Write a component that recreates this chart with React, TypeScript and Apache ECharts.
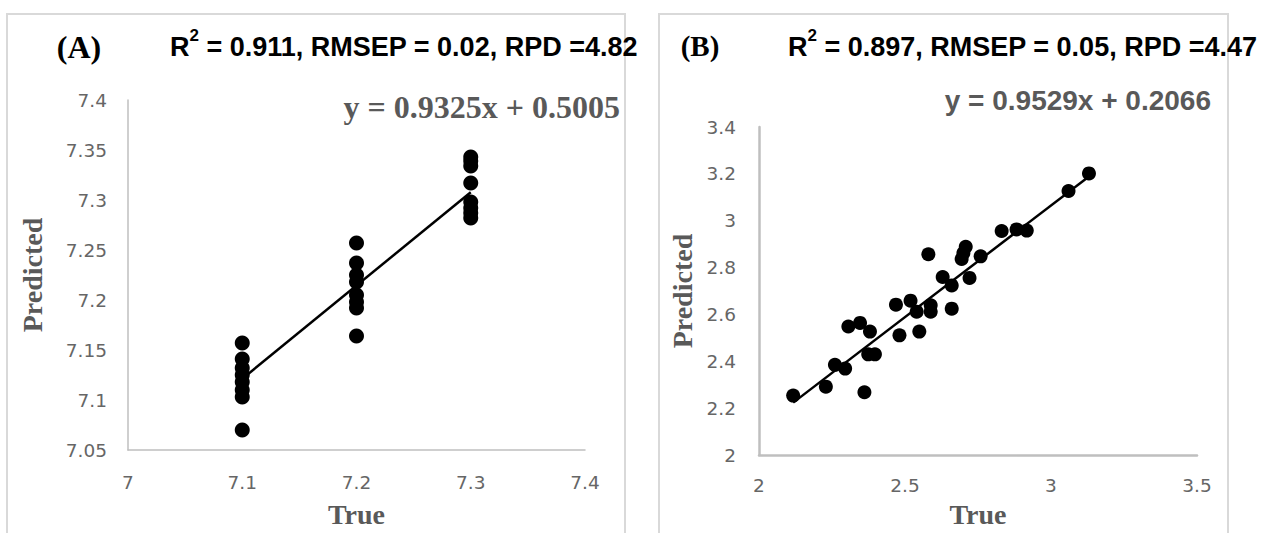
import React, { useEffect, useRef } from "react";
import * as echarts from "echarts";

// Panel A: true vs predicted
const aTrue = [
  7.1, 7.1, 7.1, 7.1, 7.1, 7.1, 7.1, 7.1,
  7.2, 7.2, 7.2, 7.2, 7.2, 7.2, 7.2, 7.2,
  7.3, 7.3, 7.3, 7.3, 7.3, 7.3, 7.3, 7.3,
];
const aPred = [
  7.157, 7.141, 7.132, 7.125, 7.118, 7.11, 7.103, 7.07,
  7.257, 7.237, 7.225, 7.218, 7.205, 7.198, 7.192, 7.164,
  7.343, 7.339, 7.334, 7.317, 7.298, 7.292, 7.287, 7.282,
];
const aSlope = 0.9325;
const aIntercept = 0.5005;

// Panel B: true vs predicted
const bTrue = [
  2.117, 2.229, 2.361, 2.26, 2.295, 2.306, 2.346, 2.38, 2.374, 2.397,
  2.481, 2.549, 2.469, 2.519, 2.54, 2.588, 2.588, 2.66, 2.58, 2.629,
  2.66, 2.721, 2.694, 2.708, 2.7, 2.759, 2.831, 2.882, 2.917, 3.06, 3.13,
];
const bPred = [
  2.254, 2.292, 2.268, 2.385, 2.369, 2.549, 2.564, 2.527, 2.43, 2.43,
  2.511, 2.527, 2.642, 2.659, 2.612, 2.639, 2.612, 2.625, 2.857, 2.76,
  2.724, 2.756, 2.837, 2.889, 2.862, 2.848, 2.956, 2.963, 2.958, 3.127, 3.202,
];
const bSlope = 0.9529;
const bIntercept = 0.2066;

const titleA = "(A)";
const titleB = "(B)";
const statsA = ["0.911", "0.02", "4.82"];
const statsB = ["0.897", "0.05", "4.47"];
const eqA = "y = 0.9325x + 0.5005";
const eqB = "y = 0.9529x + 0.2066";

function pairs(xs: number[], ys: number[]) {
  return xs.map((x, i) => [x, ys[i]]);
}
function trend(xs: number[], m: number, c: number) {
  const lo = Math.min(...xs);
  const hi = Math.max(...xs);
  return [
    [lo, m * lo + c],
    [hi, m * hi + c],
  ];
}

const GREY = "#595959";
const tickLabel = { color: "#666666", fontFamily: "DejaVu Sans", fontSize: 18.5 };
const axisNameStyle = {
  color: GREY,
  fontFamily: "Liberation Serif",
  fontWeight: "bold" as const,
  fontSize: 28,
};

function statsText(x: number, s: string[]) {
  return {
    type: "text",
    x,
    y: 47,
    style: {
      text: `{r|R}{s|2}{r| = ${s[0]}, RMSEP = ${s[1]}, RPD =${s[2]}}`,
      verticalAlign: "middle",
      align: "left",
      rich: {
        r: {
          fontSize: 27,
          fontWeight: "bold",
          fontFamily: "Liberation Sans",
          fill: "#000",
          color: "#000",
          lineHeight: 40,
        },
        s: {
          fontSize: 17,
          fontWeight: "bold",
          fontFamily: "Liberation Sans",
          fill: "#000",
          color: "#000",
          lineHeight: 17,
          verticalAlign: "top",
        },
      },
    },
  };
}

export default function App() {
  const ref = useRef<HTMLDivElement>(null);
  useEffect(() => {
    document.body.style.margin = "0";
    const chart = echarts.init(ref.current!, null, { renderer: "svg" });
    const axisLineA = { show: true, lineStyle: { color: "#bfbfbf", width: 1.5 } };
    const axisLineB = { show: true, lineStyle: { color: "#bfbfbf", width: 2.5 } };
    chart.setOption({
      animation: false,
      backgroundColor: "#ffffff",
      grid: [
        { left: 128, top: 100, width: 457, height: 356 },
        { left: 759, top: 127, width: 438, height: 345 },
      ],
      xAxis: [
        {
          gridIndex: 0,
          type: "value",
          min: 7,
          max: 7.4,
          interval: 0.1,
          axisLine: axisLineA,
          axisTick: { show: false },
          splitLine: { show: false },
          axisLabel: { ...tickLabel, margin: 23 },
          name: "True",
          nameLocation: "middle",
          nameGap: 50,
          nameTextStyle: axisNameStyle,
        },
        {
          gridIndex: 1,
          type: "value",
          min: 2,
          max: 3.5,
          interval: 0.5,
          axisLine: axisLineB,
          axisTick: { show: false },
          splitLine: { show: false },
          axisLabel: { ...tickLabel, margin: 21 },
          name: "True",
          nameLocation: "middle",
          nameGap: 34,
          nameTextStyle: axisNameStyle,
        },
      ],
      yAxis: [
        {
          gridIndex: 0,
          type: "value",
          min: 7.05,
          max: 7.4,
          interval: 0.05,
          axisLine: axisLineA,
          axisTick: { show: false },
          splitLine: { show: false },
          axisLabel: { ...tickLabel, margin: 21 },
          name: "Predicted",
          nameLocation: "middle",
          nameGap: 82,
          nameTextStyle: axisNameStyle,
        },
        {
          gridIndex: 1,
          type: "value",
          min: 2,
          max: 3.4,
          interval: 0.2,
          axisLine: axisLineB,
          axisTick: { show: false },
          splitLine: { show: false },
          axisLabel: { ...tickLabel, margin: 23 },
          name: "Predicted",
          nameLocation: "middle",
          nameGap: 63,
          nameTextStyle: axisNameStyle,
        },
      ],
      series: [
        {
          type: "line",
          xAxisIndex: 0,
          yAxisIndex: 0,
          data: trend(aTrue, aSlope, aIntercept),
          symbol: "none",
          lineStyle: { color: "#000", width: 2.5 },
          z: 3,
        },
        {
          type: "scatter",
          xAxisIndex: 0,
          yAxisIndex: 0,
          data: pairs(aTrue, aPred),
          symbolSize: 15,
          itemStyle: { color: "#000", opacity: 1 },
          z: 2,
        },
        {
          type: "line",
          xAxisIndex: 1,
          yAxisIndex: 1,
          data: trend(bTrue, bSlope, bIntercept),
          symbol: "none",
          lineStyle: { color: "#000", width: 2.5 },
          z: 3,
        },
        {
          type: "scatter",
          xAxisIndex: 1,
          yAxisIndex: 1,
          data: pairs(bTrue, bPred),
          symbolSize: 14,
          itemStyle: { color: "#000", opacity: 1 },
          z: 2,
        },
      ],
      graphic: [
        {
          type: "rect",
          silent: true,
          z: -10,
          shape: { x: 7, y: 14, width: 618, height: 560 },
          style: { fill: "none", stroke: "#d9d9d9", lineWidth: 2 },
        },
        {
          type: "rect",
          silent: true,
          z: -10,
          shape: { x: 659, y: 14, width: 569, height: 560 },
          style: { fill: "none", stroke: "#d9d9d9", lineWidth: 2 },
        },
        {
          type: "text",
          x: 79,
          y: 47,
          style: {
            text: titleA,
            fontSize: 32,
            fontWeight: "bold",
            fontFamily: "Liberation Serif",
            fill: "#000",
            align: "center",
            verticalAlign: "middle",
          },
        },
        {
          type: "text",
          x: 700,
          y: 46,
          style: {
            text: titleB,
            fontSize: 29,
            fontWeight: "bold",
            fontFamily: "Liberation Serif",
            fill: "#000",
            align: "center",
            verticalAlign: "middle",
          },
        },
        statsText(170, statsA),
        statsText(788, statsB),
        {
          type: "text",
          x: 620,
          y: 107,
          style: {
            text: eqA,
            fontSize: 32,
            fontWeight: "bold",
            fontFamily: "Liberation Serif",
            fill: GREY,
            align: "right",
            verticalAlign: "middle",
          },
        },
        {
          type: "text",
          x: 1211,
          y: 100,
          style: {
            text: eqB,
            fontSize: 28,
            fontWeight: "bold",
            fontFamily: "Liberation Sans",
            fill: GREY,
            align: "right",
            verticalAlign: "middle",
          },
        },
      ],
    });
    return () => chart.dispose();
  }, []);
  return <div ref={ref} style={{ width: 1262, height: 533 }} />;
}
